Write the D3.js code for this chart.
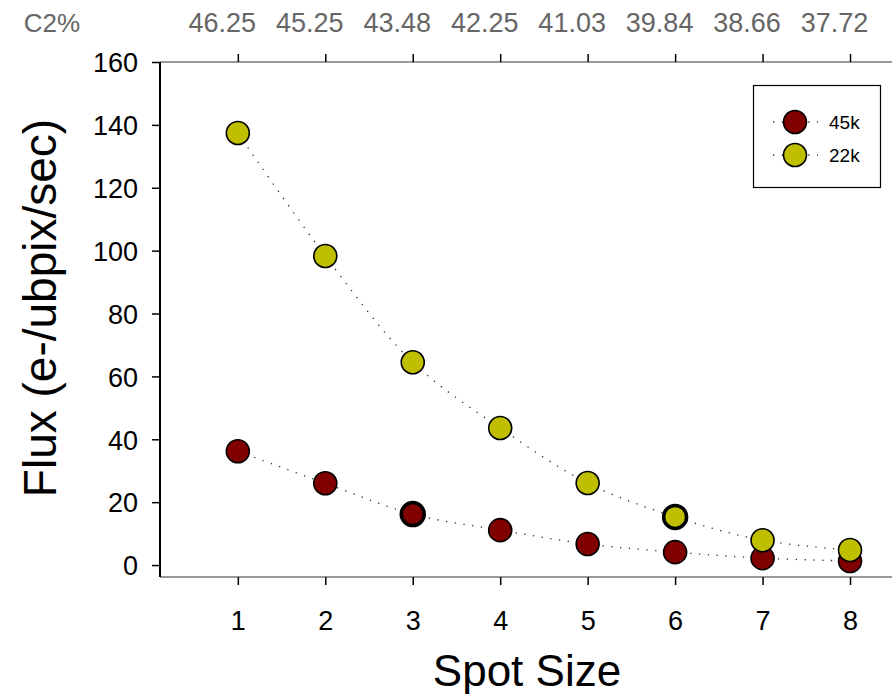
<!DOCTYPE html>
<html><head><meta charset="utf-8">
<script src="https://cdn.jsdelivr.net/npm/d3@7"></script>
<style>body{margin:0;background:#fff;} svg{display:block;font-family:"Liberation Sans",Arial,sans-serif;}</style>
</head><body><svg id="c" width="892" height="694"></svg>
<script>
const spotSizes = [1, 2, 3, 4, 5, 6, 7, 8];
const c2Labels = ["46.25", "45.25", "43.48", "42.25", "41.03", "39.84", "38.66", "37.72"];
const flux45k = [36.2, 26.0, 16.2, 11.1, 6.7, 4.1, 2.2, 1.3];
const flux22k = [137.4, 98.3, 64.5, 43.6, 26.1, 15.3, 7.9, 4.8];
const yTicks = [0, 20, 40, 60, 80, 100, 120, 140, 160];
const seriesNames = ["45k", "22k"];
const seriesColors = ["#800000", "#bfbf00"];
const emphasized = [[2], [5]]; // points drawn with heavier outline

const FF = "Liberation Sans, Arial, sans-serif";
const svg = d3.select("#c");
const L = 160, R = 892, T = 62, B = 577;
const x = d3.scaleLinear().domain([0.11, 8.48]).range([L, R]);
const y = d3.scaleLinear().domain([-3.8, 160]).range([B, T]);

// Top axis (C2%)
svg.append("line").attr("x1", L).attr("x2", R).attr("y1", T).attr("y2", T).attr("stroke", "#999").attr("stroke-width", 2);
const topAx = svg.append("g").attr("transform", `translate(0,${T})`)
  .call(d3.axisTop(x).tickValues(spotSizes).tickSize(8).tickFormat((d, i) => c2Labels[i]));
topAx.select(".domain").remove();
topAx.selectAll(".tick line").attr("stroke", "#000").attr("stroke-width", 1.5);
topAx.selectAll(".tick text").attr("fill", "#666").attr("font-size", 27).attr("y", -30).attr("dy", 0)
  .attr("x", -16).attr("font-family", FF);
svg.append("text").attr("x", 52).attr("y", 32).attr("text-anchor", "middle").attr("fill", "#666")
  .attr("font-size", 26).attr("font-family", FF).text("C2%");

// Bottom axis
svg.append("line").attr("x1", L).attr("x2", R).attr("y1", B).attr("y2", B).attr("stroke", "#999").attr("stroke-width", 2);
const botAx = svg.append("g").attr("transform", `translate(0,${B})`)
  .call(d3.axisBottom(x).tickValues(spotSizes).tickSize(8).tickFormat(d3.format("d")));
botAx.select(".domain").remove();
botAx.selectAll(".tick line").attr("stroke", "#000").attr("stroke-width", 1.5);
botAx.selectAll(".tick text").attr("fill", "#000").attr("font-size", 27).attr("y", 53).attr("dy", 0)
  .attr("font-family", FF);

// Left axis
svg.append("line").attr("x1", L).attr("x2", L).attr("y1", T).attr("y2", B).attr("stroke", "#000").attr("stroke-width", 2);
const leftAx = svg.append("g").attr("transform", `translate(${L},0)`)
  .call(d3.axisLeft(y).tickValues(yTicks).tickSize(8).tickFormat(d3.format("d")));
leftAx.select(".domain").remove();
leftAx.selectAll(".tick line").attr("stroke", "#000").attr("stroke-width", 1.5);
leftAx.selectAll(".tick text").attr("fill", "#000").attr("font-size", 27).attr("x", -22).attr("dy", "0.36em")
  .attr("font-family", FF);

// Axis titles
svg.append("text").attr("x", 527).attr("y", 686).attr("text-anchor", "middle").attr("font-size", 44)
  .attr("font-family", FF).text("Spot Size");
svg.append("text").attr("transform", "translate(56,308) rotate(-90)").attr("text-anchor", "middle").attr("font-size", 46)
  .attr("font-family", FF).text("Flux (e-/ubpix/sec)");

// Series
const allSeries = [flux45k, flux22k];
const line = d3.line().x((d, i) => x(spotSizes[i])).y(d => y(d)).curve(d3.curveCatmullRom.alpha(0.5));
allSeries.forEach((vals, s) => {
  svg.append("path").attr("d", line(vals)).attr("fill", "none").attr("stroke", "#333")
    .attr("stroke-width", 1.3).attr("stroke-dasharray", "1.3,7.5");
});
allSeries.forEach((vals, s) => {
  svg.append("g").selectAll("circle").data(vals).join("circle")
    .attr("cx", (d, i) => x(spotSizes[i])).attr("cy", d => y(d)).attr("r", 11.5)
    .attr("fill", seriesColors[s]).attr("stroke", "#000")
    .attr("stroke-width", (d, i) => emphasized[s].includes(i) ? 3.5 : 1.6);
});

// Legend
const lg = svg.append("g");
lg.append("rect").attr("x", 753.5).attr("y", 85.5).attr("width", 127).attr("height", 102)
  .attr("fill", "#fff").attr("stroke", "#000").attr("stroke-width", 1.2);
seriesNames.forEach((n, s) => {
  const cy = 122 + s * 33;
  lg.append("line").attr("x1", 773).attr("x2", 818).attr("y1", cy).attr("y2", cy)
    .attr("stroke", "#333").attr("stroke-width", 1.3).attr("stroke-dasharray", "1.3,7.5");
  lg.append("circle").attr("cx", 795).attr("cy", cy).attr("r", 11.5).attr("fill", seriesColors[s])
    .attr("stroke", "#000").attr("stroke-width", 1.6);
  lg.append("text").attr("x", 829).attr("y", cy + 7).attr("font-size", 19).attr("font-family", FF).text(n);
});
</script></body></html>
